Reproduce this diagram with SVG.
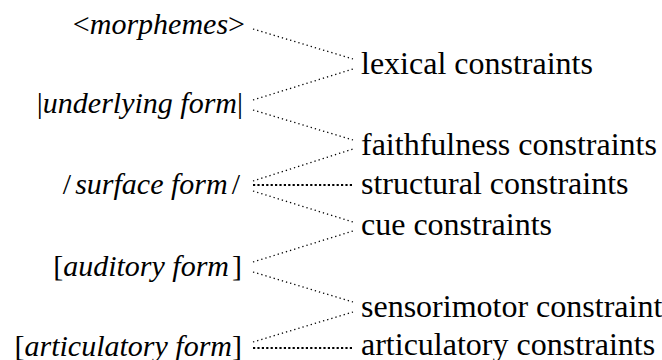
<svg xmlns="http://www.w3.org/2000/svg" width="662" height="360" viewBox="0 0 662 360" font-family="Liberation Serif">
<rect width="662" height="360" fill="#fff"/>
<g id="morphemes"><text x="245" y="34" font-family="Liberation Serif" font-size="30" font-style="italic" text-anchor="end"><tspan font-style="normal">&lt;</tspan>morphemes<tspan font-style="normal">&gt;</tspan></text></g>
<g id="underlying"><text x="243" y="113" font-family="Liberation Serif" font-size="30" font-style="italic" text-anchor="end"><tspan font-style="normal">|</tspan>underlying form<tspan font-style="normal">|</tspan></text></g>
<g id="surface"><text x="240" y="194" font-family="Liberation Serif" font-size="30" font-style="italic" text-anchor="end"><tspan font-style="normal">/</tspan><tspan dx="4">surface form</tspan><tspan font-style="normal" dx="4">/</tspan></text></g>
<g id="auditory"><text x="242" y="276" font-family="Liberation Serif" font-size="30" font-style="italic" text-anchor="end"><tspan font-style="normal">[</tspan>auditory form<tspan font-style="normal" dx="3">]</tspan></text></g>
<g id="articulatory"><text x="242" y="356" font-family="Liberation Serif" font-size="30" font-style="italic" text-anchor="end"><tspan font-style="normal">[</tspan>articulatory form<tspan font-style="normal">]</tspan></text></g>
<g id="lexical"><text x="361" y="74" font-family="Liberation Serif" font-size="32">lexical constraints</text></g>
<g id="faithfulness"><text x="361" y="155" font-family="Liberation Serif" font-size="32">faithfulness constraints</text></g>
<g id="structural"><text x="361" y="194" font-family="Liberation Serif" font-size="32">structural constraints</text></g>
<g id="cue"><text x="361" y="235" font-family="Liberation Serif" font-size="32">cue constraints</text></g>
<g id="sensorimotor"><text x="361" y="317" font-family="Liberation Serif" font-size="32">sensorimotor constraints</text></g>
<g id="articulatoryc"><text x="361" y="355" font-family="Liberation Serif" font-size="32">articulatory constraints</text></g>
<g id="connectors" stroke="#000" stroke-width="1.3" stroke-dasharray="1.3 3" fill="none">
<line x1="253" y1="29" x2="353" y2="59"/>
<line x1="253" y1="100" x2="353" y2="69"/>
<line x1="253" y1="110" x2="353" y2="140"/>
<line x1="253" y1="181" x2="353" y2="149"/>
<line x1="253" y1="185" x2="352" y2="185" stroke-width="2.2" stroke-dasharray="2.2 2.2"/>
<line x1="253" y1="191" x2="353" y2="222"/>
<line x1="253" y1="262" x2="353" y2="231"/>
<line x1="253" y1="272" x2="353" y2="302"/>
<line x1="253" y1="342" x2="353" y2="312"/>
<line x1="253" y1="348" x2="352" y2="348" stroke-width="2.2" stroke-dasharray="2.2 2.2"/>
</g>
</svg>
